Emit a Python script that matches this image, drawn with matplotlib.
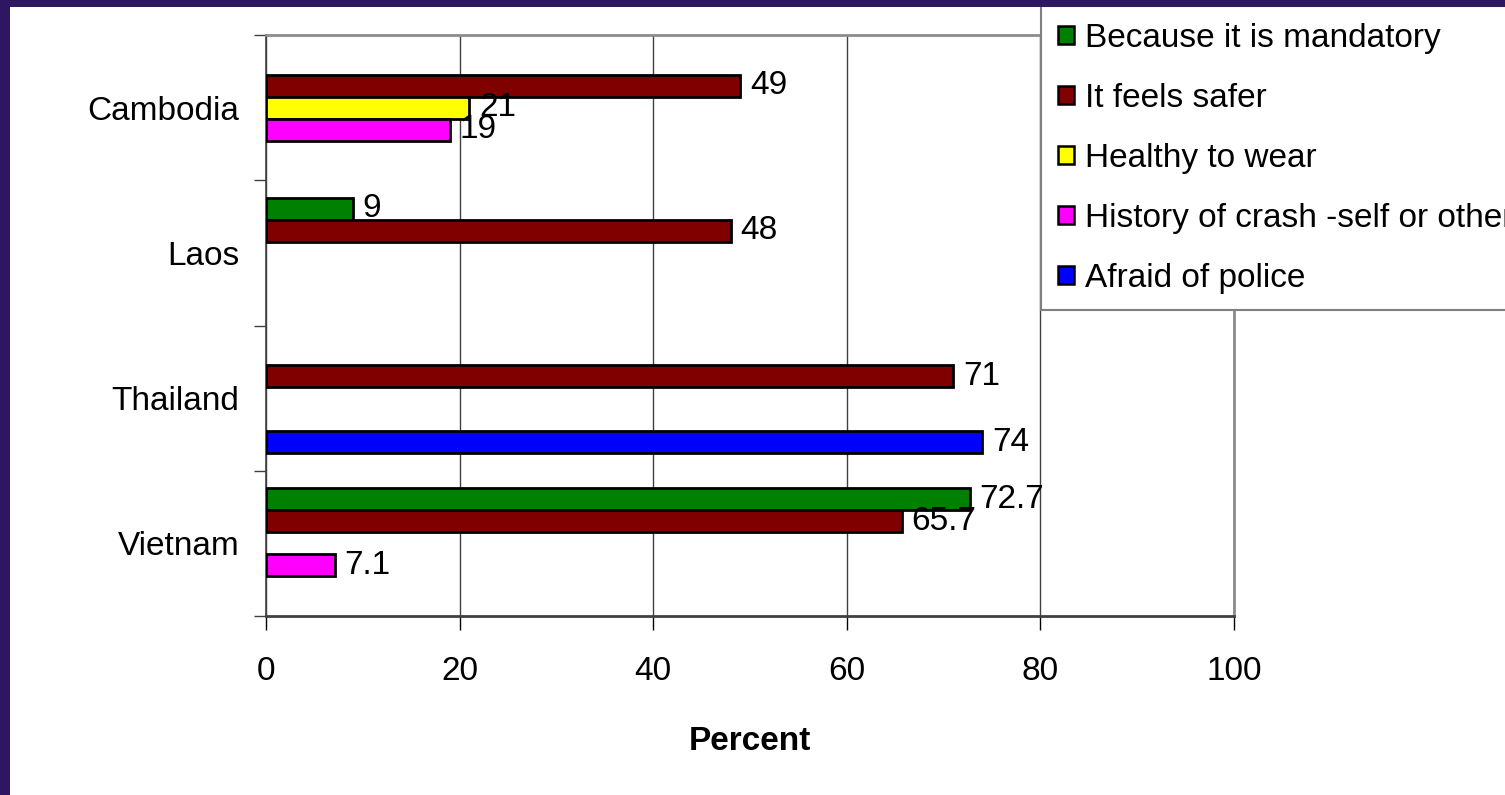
import numpy as np
import matplotlib
matplotlib.use("Agg")
import matplotlib.pyplot as plt
import matplotlib.patches as patches

plt.rcParams["font.family"] = ["Liberation Sans", "DejaVu Sans"]

# data
countries = ["Cambodia", "Laos", "Thailand", "Vietnam"]
reasons = [
    "Because it is mandatory",
    "It feels safer",
    "Healthy to wear",
    "History of crash -self or others",
    "Afraid of police",
]
mandatory = [np.nan, 9, np.nan, 72.7]
feels_safer = [49, 48, 71, 65.7]
healthy = [21, np.nan, np.nan, np.nan]
crash_history = [19, np.nan, np.nan, 7.1]
police = [np.nan, np.nan, 74, np.nan]
series = [mandatory, feels_safer, healthy, crash_history, police]
colors = ["#008000", "#800000", "#FFFF00", "#FF00FF", "#0000FF"]
x_ticks = [0, 20, 40, 60, 80, 100]

BORDER_CLR = "#2e1760"
FS = 24

fig = plt.figure(figsize=(15.05, 7.95), dpi=100, facecolor="white")
ax = fig.add_axes([266 / 1505, 1 - 616 / 795, (1234 - 266) / 1505, (616 - 35) / 795])

n = len(countries)
ypos = np.arange(n)[::-1]  # Cambodia on top
bar_h = 22 / 145

handles = []
for j, (vals, col) in enumerate(zip(series, colors)):
    vals = np.array(vals, dtype=float)
    yy = ypos + (2 - j) * bar_h
    mask = ~np.isnan(vals)
    ax.barh(yy[mask], vals[mask], height=bar_h, color=col,
            edgecolor="black", linewidth=2, zorder=3)
    for y, v in zip(yy[mask], vals[mask]):
        ax.annotate(f"{v:g}", xy=(v, y), xytext=(7, 0), textcoords="offset points",
                    ha="left", va="center", fontsize=FS, zorder=4)
    handles.append(patches.Rectangle((0, 0), 1, 1, facecolor=col,
                                     edgecolor="black", linewidth=1.8))

ax.set_xlim(0, 100)
ax.set_ylim(-0.5, n - 0.5)
ax.set_xticks(x_ticks)
ax.set_xticklabels([str(t) for t in x_ticks], fontsize=FS)
ax.tick_params(axis="x", direction="out", length=10, width=1, color="black", pad=19)

# y: boundary ticks, labels on minor ticks at category centres
ax.set_yticks(np.arange(-0.5, n, 1.0))
ax.set_yticklabels([])
ax.tick_params(axis="y", which="major", direction="out", length=9, width=1, color="#404040")
ax.set_yticks(ypos, minor=True)
ax.set_yticklabels(countries, minor=True, fontsize=FS)
ax.tick_params(axis="y", which="minor", length=0, pad=19)

ax.grid(axis="x", color="#404040", linewidth=1, zorder=0)
ax.set_axisbelow(True)
for side in ["top", "right"]:
    ax.spines[side].set_color("#8c8c8c")
    ax.spines[side].set_linewidth(2)
ax.spines["left"].set_color("#404040")
ax.spines["left"].set_linewidth(1.2)
ax.spines["bottom"].set_color("#404040")
ax.spines["bottom"].set_linewidth(2)

fig.text(750 / 1505, 1 - 750 / 795, "Percent", ha="center", va="baseline",
         fontsize=FS, fontweight="bold")

leg = fig.legend(handles, reasons, loc="upper left",
                 bbox_to_anchor=(1041 / 1505, 1 - 6 / 795),
                 fontsize=FS, frameon=True, fancybox=False, framealpha=1,
                 edgecolor="#808080", handlelength=0.48, handleheight=0.48,
                 handletextpad=0.33, labelspacing=0.87, borderpad=0.5,
                 borderaxespad=0)
leg.get_frame().set_linewidth(1.5)
leg.set_zorder(10)

# slide frame (left and top strips)
fig.patches.append(patches.Rectangle((0, 1 - 7 / 795), 1, 7 / 795, transform=fig.transFigure,
                                     facecolor=BORDER_CLR, edgecolor="none", zorder=20))
fig.patches.append(patches.Rectangle((0, 0), 10 / 1505, 1, transform=fig.transFigure,
                                     facecolor=BORDER_CLR, edgecolor="none", zorder=20))

fig.savefig("out.png", dpi=100, facecolor="white")
